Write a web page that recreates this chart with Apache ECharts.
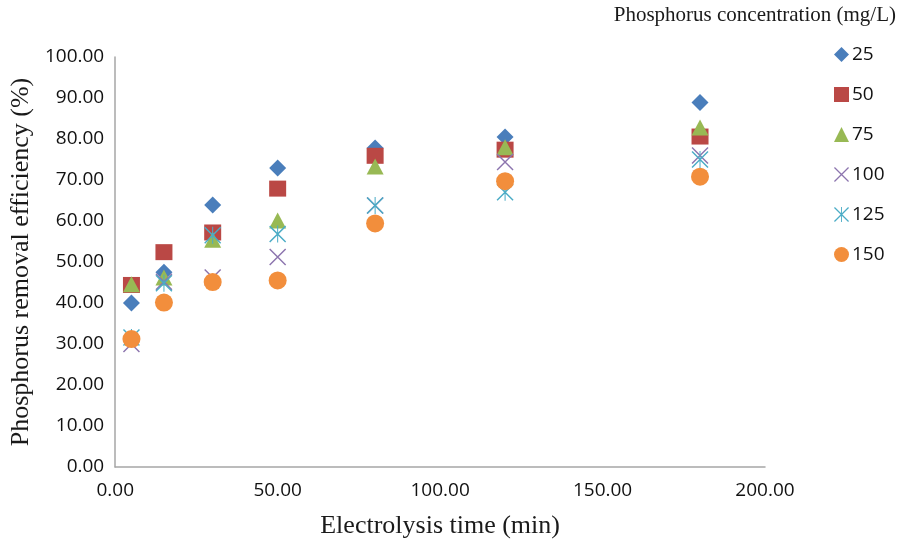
<!DOCTYPE html>
<html>
<head>
<meta charset="utf-8">
<script src="https://cdn.jsdelivr.net/npm/echarts@6/dist/echarts.min.js"></script>
<style>html,body{margin:0;padding:0;background:#fff}#c{width:898px;height:548px}</style>
</head>
<body>
<div id="c"></div>
<script>
const times = [5, 15, 30, 50, 80, 120, 180];
const seriesNames = ['25', '50', '75', '100', '125', '150'];
const eff25  = [40.0, 47.5, 63.9, 72.9, 77.8, 80.5, 88.9];
const eff50  = [44.4, 52.4, 57.2, 67.9, 75.9, 77.4, 80.6];
const eff75  = [44.6, 46.2, 55.4, 60.1, 73.3, 78.0, 82.8];
const eff100 = [30.0, 45.2, 46.2, 51.2, 63.8, 74.4, 76.0];
const eff125 = [31.6, 44.8, 56.5, 56.8, 63.8, 67.0, 75.0];
const eff150 = [31.2, 40.1, 45.1, 45.5, 59.4, 69.7, 70.8];
const allData = [eff25, eff50, eff75, eff100, eff125, eff150];
const xTicks = [0, 50, 100, 150, 200];
const yTicks = [0, 10, 20, 30, 40, 50, 60, 70, 80, 90, 100];

const colors = ['#4A7EBB', '#BA4845', '#98B954', '#8C74AE', '#4BACC6', '#F28E3C'];
const xPath = 'path://M0,1.2L1.2,0L20,18.8L18.8,20Z M18.8,0L20,1.2L1.2,20L0,18.8Z';
const starPath = 'path://M0,1.2L1.2,0L20,18.8L18.8,20Z M18.8,0L20,1.2L1.2,20L0,18.8Z M9.4,0L10.6,0L10.6,20L9.4,20Z';
const symbols = ['diamond', 'rect', 'triangle', xPath, starPath, 'circle'];
const sizes = [[17, 17], [17, 16], [17, 16], [17, 17], [17, 17], [18, 18]];

const chart = echarts.init(document.getElementById('c'), null, {renderer: 'canvas'});
const sans = 'Open Sans';
const serif = 'Liberation Serif';

const series = seriesNames.map((n, i) => ({
  name: n,
  type: 'scatter',
  data: times.map((t, j) => [t, allData[i][j]]),
  symbol: symbols[i],
  symbolSize: sizes[i],
  itemStyle: {color: colors[i], opacity: 1},
  emphasis: {disabled: true},
  z: 2 + i
}));

chart.setOption({
  animation: false,
  backgroundColor: '#fff',
  title: {
    text: 'Phosphorus concentration (mg/L)',
    right: -3, top: 0,
    textStyle: {fontFamily: serif, fontSize: 21, fontWeight: 'normal', color: '#1a1a1a'}
  },
  legend: {
    orient: 'vertical',
    left: 829, top: 40,
    itemWidth: 15, itemHeight: 15,
    itemGap: 21,
    data: seriesNames,
    textStyle: {fontFamily: sans, fontSize: 19, color: '#111', padding: [0, 0, 0, -2]}
  },
  grid: {left: 111, right: 133, top: 57, bottom: 81},
  xAxis: {
    type: 'value', min: 0, max: 200, interval: 50,
    name: 'Electrolysis time (min)', nameLocation: 'middle', nameGap: 46,
    nameTextStyle: {fontFamily: serif, fontSize: 26, color: '#1a1a1a'},
    axisLine: {show: true, lineStyle: {color: '#a6a6a6', width: 1.5}},
    axisTick: {show: false},
    splitLine: {show: false},
    axisLabel: {fontFamily: sans, fontSize: 19, color: '#111', margin: 14,
      formatter: v => xTicks.includes(v) ? v.toFixed(2) : ''}
  },
  yAxis: {
    type: 'value', min: 0, max: 100, interval: 10,
    name: 'Phosphorus removal efficiency (%)', nameLocation: 'middle', nameGap: 81,
    nameTextStyle: {fontFamily: serif, fontSize: 26, color: '#1a1a1a'},
    axisLine: {show: true, lineStyle: {color: '#a6a6a6', width: 1.5}},
    axisTick: {show: false},
    splitLine: {show: false},
    axisLabel: {fontFamily: sans, fontSize: 19, color: '#111', margin: 11,
      formatter: v => yTicks.includes(v) ? v.toFixed(2) : ''}
  },
  series: series
});
</script>
</body>
</html>
